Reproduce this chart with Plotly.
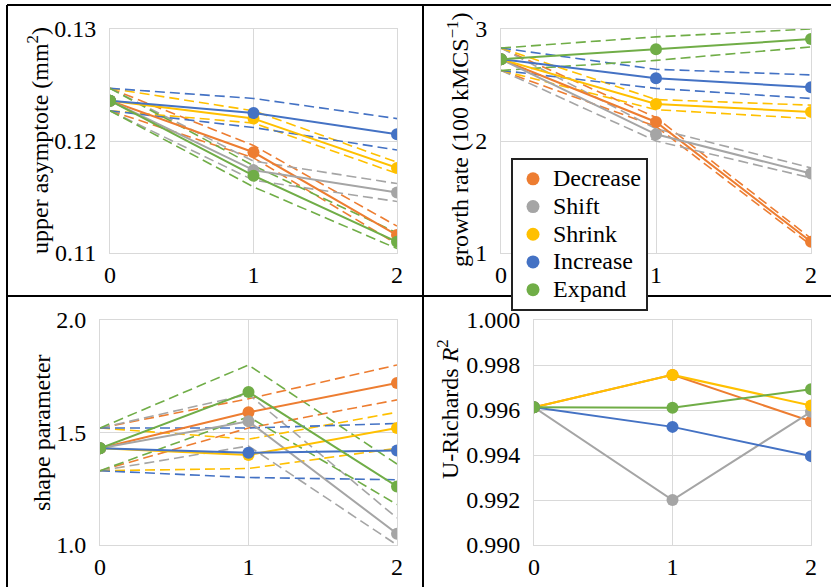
import plotly.graph_objects as go

W, H = 831, 587
groups = ["Decrease", "Shift", "Shrink", "Increase", "Expand"]
colors = ["#ED7D31", "#A5A5A5", "#FFC000", "#4472C4", "#70AD47"]
steps = [0, 1, 2]

# Panel 1: upper asymptote (mm^2)
asym_mean = {
    "Decrease": [0.1236, 0.1190, 0.1116],
    "Shift":    [0.1236, 0.1174, 0.1154],
    "Shrink":   [0.1236, 0.1220, 0.1176],
    "Increase": [0.1236, 0.1225, 0.1206],
    "Expand":   [0.1236, 0.1169, 0.1110],
}
asym_upper = {
    "Decrease": [0.1247, 0.1196, 0.1124],
    "Shift":    [0.1247, 0.1182, 0.1162],
    "Shrink":   [0.1247, 0.1227, 0.1181],
    "Increase": [0.1247, 0.1238, 0.1220],
    "Expand":   [0.1247, 0.1178, 0.1118],
}
asym_lower = {
    "Decrease": [0.1227, 0.1185, 0.1108],
    "Shift":    [0.1227, 0.1165, 0.1146],
    "Shrink":   [0.1227, 0.1216, 0.1171],
    "Increase": [0.1227, 0.1212, 0.1192],
    "Expand":   [0.1227, 0.1159, 0.1104],
}

# Panel 2: growth rate (100 kMCS^-1)
growth_mean = {
    "Decrease": [2.73, 2.17, 1.10],
    "Shift":    [2.73, 2.06, 1.71],
    "Shrink":   [2.73, 2.33, 2.26],
    "Increase": [2.73, 2.56, 2.48],
    "Expand":   [2.73, 2.82, 2.91],
}
growth_upper = {
    "Decrease": [2.83, 2.21, 1.13],
    "Shift":    [2.83, 2.11, 1.76],
    "Shrink":   [2.83, 2.37, 2.32],
    "Increase": [2.83, 2.64, 2.59],
    "Expand":   [2.83, 2.93, 3.00],
}
growth_lower = {
    "Decrease": [2.63, 2.13, 1.07],
    "Shift":    [2.63, 2.00, 1.67],
    "Shrink":   [2.63, 2.28, 2.20],
    "Increase": [2.63, 2.47, 2.38],
    "Expand":   [2.63, 2.72, 2.84],
}

# Panel 3: shape parameter
shape_mean = {
    "Decrease": [1.43, 1.59, 1.72],
    "Shift":    [1.43, 1.55, 1.05],
    "Shrink":   [1.43, 1.40, 1.52],
    "Increase": [1.43, 1.41, 1.42],
    "Expand":   [1.43, 1.68, 1.26],
}
shape_upper = {
    "Decrease": [1.52, 1.65, 1.80],
    "Shift":    [1.52, 1.67, 1.12],
    "Shrink":   [1.52, 1.47, 1.59],
    "Increase": [1.52, 1.52, 1.54],
    "Expand":   [1.52, 1.80, 1.36],
}
shape_lower = {
    "Decrease": [1.33, 1.52, 1.645],
    "Shift":    [1.33, 1.44, 1.00],
    "Shrink":   [1.33, 1.34, 1.43],
    "Increase": [1.33, 1.30, 1.29],
    "Expand":   [1.33, 1.57, 1.18],
}

# Panel 4: U-Richards R^2
r2_mean = {
    "Decrease": [0.99612, 0.99756, 0.99550],
    "Shift":    [0.99612, 0.99200, 0.99592],
    "Shrink":   [0.99612, 0.99756, 0.99620],
    "Increase": [0.99612, 0.99525, 0.99395],
    "Expand":   [0.99612, 0.99610, 0.99692],
}

FONT = "Liberation Serif"
TICK_SIZE = 24

def px_x(p):
    return p / W

def px_y(p):
    return 1 - p / H

panels = [
    ("x", "y", (110, 397), (29, 253), asym_mean, asym_upper, asym_lower, [0.11, 0.13], 0.01, ".2f"),
    ("x2", "y2", (501, 811), (29, 253), growth_mean, growth_upper, growth_lower, [1, 3], 1, "d"),
    ("x3", "y3", (100, 397), (320, 545), shape_mean, shape_upper, shape_lower, [1.0, 2.0], 0.5, ".1f"),
    ("x4", "y4", (534, 811), (320, 545), r2_mean, None, None, [0.990, 1.000], 0.002, ".3f"),
]

fig = go.Figure()
layout = {}
for i, (xa, ya, xd, yd, mean, upper, lower, yr, dt, fmt) in enumerate(panels):
    if upper is not None:
        for g, c in zip(groups, colors):
            for bound in (upper, lower):
                fig.add_trace(go.Scatter(
                    x=steps, y=bound[g], xaxis=xa, yaxis=ya, mode="lines",
                    line=dict(color=c, width=1.6, dash="10px,5px"),
                    showlegend=False, hoverinfo="skip"))
    for g, c in zip(groups, colors):
        fig.add_trace(go.Scatter(
            x=steps, y=mean[g], xaxis=xa, yaxis=ya, mode="lines+markers",
            line=dict(color=c, width=2), marker=dict(color=c, size=12),
            showlegend=False, name=g))
    xname = "xaxis" + ("" if i == 0 else str(i + 1))
    yname = "yaxis" + ("" if i == 0 else str(i + 1))
    layout[xname] = dict(
        domain=[px_x(xd[0]), px_x(xd[1])], range=[0, 2], tickvals=steps,
        anchor=ya, showgrid=True, gridcolor="#d9d9d9", gridwidth=1,
        showline=True, linecolor="#d9d9d9", mirror=True, zeroline=False,
        ticks="", ticklabelstandoff=0, automargin=False,
        tickfont=dict(family=FONT, size=TICK_SIZE, color="black"))
    layout[yname] = dict(
        domain=[px_y(yd[1]), px_y(yd[0])], range=yr, dtick=dt, tick0=yr[0],
        tickformat=fmt, anchor=xa, showgrid=True, gridcolor="#d9d9d9",
        gridwidth=1, showline=True, linecolor="#d9d9d9", mirror=True,
        zeroline=False, ticks="", ticklabelstandoff=8, automargin=False,
        tickfont=dict(family=FONT, size=TICK_SIZE, color="black"))

# legend entries (markers only); row spacing from font size 19, text drawn at 24px
for g, c in zip(groups, colors):
    fig.add_trace(go.Scatter(x=[None], y=[None], mode="markers",
                             name=f'<span style="font-size:24px">{g}</span>',
                             marker=dict(color=c, size=13), showlegend=True))

titles = [
    ("upper asymptote (mm<sup>2</sup>)", 38, 141),
    ("growth rate (100 kMCS<sup>−1</sup>)", 458, 140),
    ("shape parameter", 42, 433),
    ("U-Richards <i>R</i><sup>2</sup>", 448, 409),
]
annotations = [
    dict(text=t, x=px_x(xc), y=px_y(yc), xref="paper", yref="paper",
         xanchor="center", yanchor="middle", textangle=-90, showarrow=False,
         font=dict(family=FONT, size=24, color="black"))
    for t, xc, yc in titles
]

shapes = [
    dict(type="line", xref="paper", yref="paper", x0=px_x(7), x1=1.02, y0=px_y(5), y1=px_y(5),
         line=dict(color="black", width=2)),
    dict(type="line", xref="paper", yref="paper", x0=px_x(7), x1=px_x(7), y0=px_y(5), y1=-0.02,
         line=dict(color="black", width=2)),
    dict(type="line", xref="paper", yref="paper", x0=px_x(423), x1=px_x(423), y0=px_y(5), y1=-0.02,
         line=dict(color="black", width=2)),
    dict(type="line", xref="paper", yref="paper", x0=px_x(7), x1=1.02, y0=px_y(296), y1=px_y(296),
         line=dict(color="black", width=2)),
]

fig.update_layout(
    width=W, height=H, margin=dict(l=0, r=0, t=0, b=0, autoexpand=False),
    paper_bgcolor="white", plot_bgcolor="white",
    font=dict(family=FONT, size=TICK_SIZE, color="black"),
    annotations=annotations, shapes=shapes,
    legend=dict(x=px_x(511), y=px_y(158), xanchor="left", yanchor="top",
                bgcolor="white", bordercolor="#222", borderwidth=2,
                font=dict(family=FONT, size=19, color="black"),
                tracegroupgap=0, itemwidth=30),
    **layout,
)

fig.write_html("out.html", post_script="document.body.style.margin='0';",
               config={"displayModeBar": False})
